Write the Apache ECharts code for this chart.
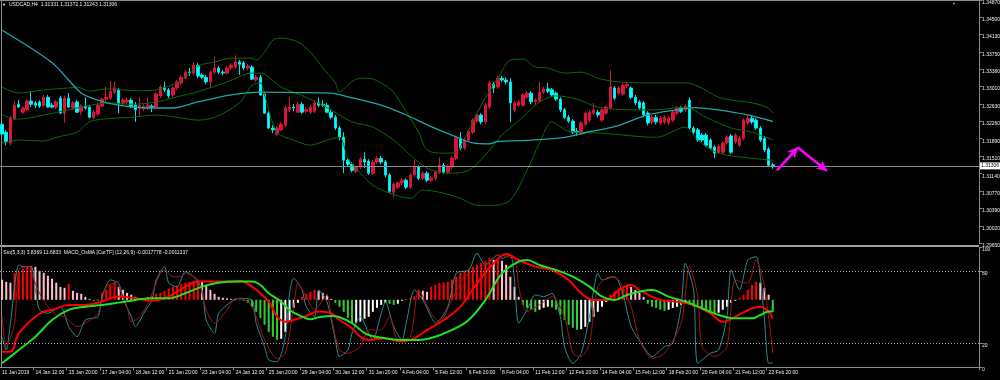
<!DOCTYPE html>
<html><head><meta charset="utf-8">
<script src="https://cdn.jsdelivr.net/npm/echarts@6/dist/echarts.min.js"></script>
<style>html,body{margin:0;padding:0;background:#000}#c{width:1000px;height:380px}</style>
</head><body><div id="c"></div>
<script>
// ---------- data ----------
const priceTickLabels = ['1.29650','1.30020','1.30390','1.30770','1.31140','1.31510','1.31890','1.32260','1.32630','1.33010','1.33380','1.33750','1.34130','1.34500','1.34870'];
const oscTickLabels = ['0','20','80','100'];
const timeLabels = ['11 Jan 2019','14 Jan 12:00','15 Jan 20:00','17 Jan 04:00','18 Jan 12:00','21 Jan 20:00','23 Jan 04:00','24 Jan 12:00','25 Jan 20:00','29 Jan 04:00','30 Jan 12:00','31 Jan 20:00','4 Feb 04:00','5 Feb 12:00','6 Feb 20:00','8 Feb 04:00','11 Feb 12:00','12 Feb 20:00','14 Feb 04:00','15 Feb 12:00','18 Feb 20:00','20 Feb 04:00','21 Feb 12:00','22 Feb 20:00'];
const lastPrice = 1.31306;

const open = [
1.3220,1.3203,1.3180,1.3231,1.3263,1.3246,1.3251,1.3270,1.3266,1.3268,
1.3261,1.3278,1.3261,1.3257,1.3276,1.3244,1.3276,1.3255,1.3268,1.3248,
1.3259,1.3257,1.3235,1.3242,1.3259,1.3274,1.3276,1.3289,1.3294,1.3266,
1.3268,1.3272,1.3261,1.3255,1.3253,1.3255,1.3259,1.3257,1.3281,1.3300,
1.3294,1.3283,1.3298,1.3309,1.3319,1.3332,1.3330,1.3347,1.3326,1.3321,
1.3311,1.3332,1.3341,1.3332,1.3330,1.3341,1.3343,1.3354,1.3352,1.3341,
1.3343,1.3315,1.3321,1.3285,1.3244,1.3212,1.3199,1.3208,1.3218,1.3251,
1.3257,1.3246,1.3263,1.3248,1.3246,1.3248,1.3266,1.3263,1.3261,1.3246,
1.3235,1.3212,1.3192,1.3143,1.3134,1.3119,1.3128,1.3145,1.3141,1.3115,
1.3139,1.3147,1.3139,1.3111,1.3074,1.3085,1.3094,1.3100,1.3085,1.3111,
1.3128,1.3104,1.3115,1.3100,1.3104,1.3117,1.3132,1.3117,1.3128,1.3147,
1.3190,1.3169,1.3186,1.3203,1.3227,1.3240,1.3225,1.3257,1.3306,1.3300,
1.3319,1.3315,1.3311,1.3251,1.3261,1.3261,1.3278,1.3287,1.3268,1.3270,
1.3289,1.3296,1.3294,1.3287,1.3274,1.3251,1.3235,1.3227,1.3205,1.3201,
1.3220,1.3229,1.3244,1.3246,1.3229,1.3244,1.3255,1.3298,1.3287,1.3285,
1.3302,1.3298,1.3278,1.3268,1.3266,1.3244,1.3225,1.3235,1.3223,1.3225,
1.3223,1.3229,1.3244,1.3255,1.3251,1.3272,1.3212,1.3208,1.3197,1.3197,
1.3186,1.3171,1.3160,1.3160,1.3180,1.3195,1.3182,1.3175,1.3190,1.3223,
1.3233,1.3229,1.3212,1.3190,1.3167,1.31331];
const close = [
1.3199,1.3182,1.3233,1.3261,1.3257,1.3255,1.3270,1.3263,1.3261,1.3259,
1.3278,1.3257,1.3257,1.3268,1.3244,1.3276,1.3257,1.3266,1.3246,1.3259,
1.3255,1.3235,1.3246,1.3261,1.3274,1.3278,1.3291,1.3298,1.3266,1.3272,
1.3272,1.3257,1.3251,1.3261,1.3259,1.3261,1.3257,1.3285,1.3300,1.3294,
1.3281,1.3298,1.3311,1.3321,1.3332,1.3330,1.3347,1.3324,1.3321,1.3311,
1.3332,1.3341,1.3332,1.3330,1.3341,1.3347,1.3354,1.3349,1.3341,1.3345,
1.3317,1.3321,1.3283,1.3244,1.3212,1.3208,1.3212,1.3220,1.3255,1.3257,
1.3255,1.3263,1.3246,1.3251,1.3257,1.3266,1.3261,1.3261,1.3246,1.3235,
1.3212,1.3192,1.3143,1.3134,1.3121,1.3128,1.3145,1.3139,1.3115,1.3139,
1.3147,1.3139,1.3111,1.3076,1.3091,1.3094,1.3100,1.3085,1.3111,1.3128,
1.3104,1.3115,1.3100,1.3104,1.3117,1.3132,1.3117,1.3130,1.3147,1.3190,
1.3169,1.3186,1.3205,1.3229,1.3240,1.3225,1.3261,1.3309,1.3298,1.3319,
1.3315,1.3311,1.3266,1.3266,1.3268,1.3283,1.3287,1.3268,1.3272,1.3289,
1.3296,1.3291,1.3283,1.3274,1.3251,1.3235,1.3227,1.3203,1.3203,1.3223,
1.3244,1.3246,1.3251,1.3240,1.3251,1.3257,1.3300,1.3276,1.3298,1.3304,
1.3306,1.3278,1.3266,1.3255,1.3240,1.3223,1.3235,1.3225,1.3233,1.3235,
1.3233,1.3246,1.3255,1.3248,1.3259,1.3212,1.3203,1.3186,1.3186,1.3175,
1.3169,1.3158,1.3173,1.3180,1.3192,1.3160,1.3197,1.3190,1.3229,1.3233,
1.3225,1.3212,1.3186,1.3165,1.3132,1.31306];
const low = [
1.3192,1.3175,1.3175,1.3229,1.3255,1.3242,1.3248,1.3257,1.3255,1.3255,
1.3257,1.3255,1.3255,1.3253,1.3242,1.3223,1.3255,1.3251,1.3244,1.3240,
1.3251,1.3233,1.3231,1.3238,1.3257,1.3270,1.3272,1.3285,1.3244,1.3261,
1.3263,1.3255,1.3225,1.3235,1.3248,1.3251,1.3246,1.3253,1.3276,1.3289,
1.3276,1.3278,1.3294,1.3304,1.3317,1.3324,1.3326,1.3319,1.3317,1.3306,
1.3300,1.3328,1.3328,1.3326,1.3326,1.3336,1.3339,1.3326,1.3336,1.3336,
1.3315,1.3311,1.3281,1.3242,1.3210,1.3201,1.3195,1.3205,1.3214,1.3246,
1.3248,1.3244,1.3242,1.3244,1.3242,1.3244,1.3257,1.3257,1.3244,1.3231,
1.3208,1.3186,1.3115,1.3130,1.3117,1.3115,1.3124,1.3126,1.3111,1.3111,
1.3134,1.3134,1.3106,1.3072,1.3063,1.3081,1.3089,1.3081,1.3081,1.3106,
1.3100,1.3100,1.3096,1.3096,1.3100,1.3113,1.3113,1.3113,1.3124,1.3143,
1.3165,1.3165,1.3182,1.3199,1.3223,1.3220,1.3220,1.3253,1.3287,1.3296,
1.3311,1.3306,1.3225,1.3246,1.3257,1.3257,1.3274,1.3263,1.3261,1.3266,
1.3285,1.3287,1.3278,1.3270,1.3246,1.3231,1.3223,1.3199,1.3195,1.3197,
1.3216,1.3225,1.3240,1.3235,1.3225,1.3240,1.3251,1.3272,1.3283,1.3281,
1.3298,1.3274,1.3261,1.3251,1.3235,1.3218,1.3220,1.3220,1.3218,1.3220,
1.3218,1.3225,1.3240,1.3244,1.3246,1.3208,1.3199,1.3182,1.3182,1.3171,
1.3165,1.3147,1.3156,1.3156,1.3175,1.3156,1.3177,1.3171,1.3186,1.3218,
1.3220,1.3208,1.3182,1.3160,1.3128,1.31243];
const high = [
1.3225,1.3208,1.3238,1.3270,1.3272,1.3259,1.3274,1.3291,1.3270,1.3272,
1.3283,1.3283,1.3266,1.3272,1.3281,1.3281,1.3287,1.3270,1.3272,1.3263,
1.3278,1.3261,1.3251,1.3266,1.3278,1.3300,1.3313,1.3311,1.3298,1.3276,
1.3278,1.3276,1.3268,1.3278,1.3263,1.3278,1.3263,1.3289,1.3304,1.3311,
1.3298,1.3302,1.3315,1.3326,1.3336,1.3341,1.3354,1.3352,1.3330,1.3326,
1.3336,1.3364,1.3345,1.3336,1.3345,1.3352,1.3369,1.3358,1.3356,1.3349,
1.3347,1.3326,1.3326,1.3289,1.3248,1.3218,1.3216,1.3225,1.3261,1.3278,
1.3263,1.3268,1.3268,1.3257,1.3261,1.3272,1.3278,1.3272,1.3266,1.3251,
1.3240,1.3216,1.3203,1.3147,1.3139,1.3132,1.3149,1.3160,1.3145,1.3143,
1.3152,1.3152,1.3143,1.3115,1.3096,1.3098,1.3104,1.3104,1.3115,1.3143,
1.3132,1.3119,1.3119,1.3109,1.3121,1.3149,1.3137,1.3134,1.3152,1.3195,
1.3203,1.3190,1.3210,1.3233,1.3244,1.3244,1.3266,1.3313,1.3311,1.3324,
1.3324,1.3321,1.3319,1.3270,1.3272,1.3287,1.3291,1.3291,1.3276,1.3311,
1.3300,1.3309,1.3298,1.3291,1.3278,1.3255,1.3240,1.3231,1.3212,1.3227,
1.3248,1.3251,1.3266,1.3251,1.3255,1.3261,1.3336,1.3302,1.3302,1.3309,
1.3311,1.3302,1.3283,1.3272,1.3270,1.3248,1.3240,1.3240,1.3238,1.3240,
1.3238,1.3251,1.3259,1.3259,1.3263,1.3278,1.3216,1.3212,1.3201,1.3201,
1.3190,1.3175,1.3177,1.3184,1.3197,1.3199,1.3201,1.3195,1.3233,1.3238,
1.3238,1.3233,1.3216,1.3195,1.3171,1.31372];

// Bollinger bands and slow MA, read as [bar, price]
const bbUpper = [[0,1.3300],[4,1.3287],[10,1.3294],[16,1.3298],[18,1.3300],[21,1.3291],[25,1.3296],[33,1.3292],[37,1.3294],[42,1.3309],[44,1.3321],[47,1.3345],[51,1.3354],[55,1.3362],[60,1.3362],[61,1.3358],[63,1.3375],[65,1.3401],[67,1.3405],[71,1.3397],[74,1.3375],[77,1.3341],[80,1.3309],[81,1.3289],[83,1.3304],[85,1.3317],[88,1.3319],[91,1.3309],[94,1.3289],[96,1.3261],[100,1.3203],[102,1.3165],[106,1.3158],[109,1.3160],[111,1.3190],[115,1.3261],[119,1.3319],[122,1.3358],[125,1.3360],[128,1.3343],[131,1.3341],[135,1.3330],[139,1.3332],[143,1.3319],[148,1.3311],[155,1.3309],[164,1.3309],[167,1.3302],[172,1.3278],[175,1.3272],[180,1.3266],[184,1.3255],[185,1.3244]];
const bbMiddle = [[0,1.3240],[4,1.3231],[10,1.3240],[16,1.3251],[20,1.3259],[26,1.3266],[31,1.3263],[37,1.3268],[42,1.3279],[47,1.3290],[54,1.3311],[60,1.3330],[62,1.3330],[67,1.3300],[73,1.3278],[79,1.3251],[84,1.3225],[89,1.3214],[94,1.3186],[98,1.3154],[102,1.3126],[107,1.3115],[112,1.3121],[116,1.3154],[120,1.3197],[125,1.3235],[129,1.3268],[133,1.3281],[138,1.3274],[143,1.3257],[151,1.3251],[157,1.3251],[164,1.3257],[169,1.3235],[175,1.3212],[180,1.3203],[185,1.3186]];
const bbLower = [[0,1.3180],[4,1.3186],[10,1.3184],[13,1.3192],[18,1.3203],[21,1.3225],[24,1.3231],[31,1.3235],[37,1.3240],[42,1.3235],[47,1.3229],[51,1.3235],[57,1.3266],[60,1.3304],[62,1.3309],[63,1.3283],[66,1.3203],[70,1.3186],[74,1.3175],[78,1.3186],[81,1.3192],[83,1.3147],[86,1.3115],[89,1.3089],[93,1.3072],[98,1.3061],[101,1.3079],[105,1.3074],[110,1.3061],[114,1.3046],[118,1.3046],[122,1.3057],[126,1.3121],[129,1.3180],[132,1.3225],[136,1.3205],[144,1.3201],[157,1.3192],[164,1.3214],[167,1.3186],[172,1.3158],[180,1.3147],[185,1.3143]];
const maSlow = [[0,1.3422],[12,1.3352],[19,1.3287],[23,1.3272],[28,1.3261],[35,1.3255],[41,1.3255],[47,1.3268],[55,1.3283],[62,1.3289],[71,1.3288],[79,1.3287],[83,1.3279],[91,1.3261],[97,1.3240],[103,1.3215],[109,1.3193],[113,1.3180],[117,1.3178],[119,1.3183],[127,1.3186],[135,1.3192],[141,1.3204],[147,1.3215],[155,1.3240],[162,1.3251],[166,1.3256],[171,1.3252],[179,1.3240],[185,1.3226]];

// manual drawing: two arrows [bar, price]
const arrowPts = [[186,1.3121],[190.7,1.3170],[198.2,1.3120]];

// sub window
const osma = [
0.00107,0.00096,0.00091,0.00144,0.00149,0.00165,0.00176,0.00181,0.00176,0.00155,
0.00144,0.00128,0.00112,0.00091,0.00069,0.00064,0.00085,0.00048,0.00037,0.00032,
0.00016,0.00005,-0.00005,-0.00003,0.00037,0.00053,0.0008,0.00096,0.00069,0.00053,
0.00037,0.00027,0.00016,0.00008,0.00005,0.00016,0.00021,0.00032,0.00037,0.00048,
0.00059,0.00069,0.00075,0.00085,0.00091,0.00096,0.00101,0.00107,0.00096,0.0008,
0.00053,0.00032,0.00016,0.00011,0.00008,0.00005,0.00003,-0.00003,-0.00005,-0.00016,
-0.00037,-0.00064,-0.00096,-0.00133,-0.00171,-0.00197,-0.00213,-0.00208,-0.00171,-0.00117,
-0.00043,-0.00016,0.00016,0.00032,0.00043,0.00053,0.00048,0.00037,0.00027,0.00005,
-0.00016,-0.00037,-0.00064,-0.00096,-0.00128,-0.00123,-0.00117,-0.00101,-0.00091,-0.00064,
-0.00043,-0.00027,-0.00016,-0.00021,-0.00027,-0.00021,-0.00005,0.00003,0.00011,0.00021,
0.00053,0.00048,0.00043,0.00069,0.0008,0.00091,0.00093,0.00096,0.00107,0.00123,
0.00144,0.00149,0.0016,0.00176,0.00187,0.00197,0.00208,0.00224,0.00213,0.00219,
0.00208,0.00187,0.00123,0.00069,0.00016,-0.00027,-0.00043,-0.00053,-0.00064,-0.00053,
-0.00043,-0.00037,-0.0004,-0.00053,-0.0008,-0.00107,-0.00133,-0.00149,-0.0016,-0.00157,
-0.00144,-0.00117,-0.00091,-0.00064,-0.00037,-0.00011,0.00027,0.00043,0.00059,0.00069,
0.0008,0.00069,0.00053,0.00037,0.00016,-0.00021,-0.00037,-0.00043,-0.00053,-0.00059,
-0.00053,-0.00043,-0.00037,-0.00027,-0.00016,-0.00027,-0.00037,-0.00043,-0.00053,-0.00064,
-0.00069,-0.00075,-0.00069,-0.00053,-0.00037,-0.00016,-0.00005,0.00011,0.00027,0.00053,
0.0008,0.00096,0.00091,0.00064,0.00027,-0.00064];
const stochMain = [[0,25.5],[1,14.4],[2,36.7],[4,85.3],[5,83.9],[7,83.9],[8,64.4],[9,47.8],[11,45],[12,46.4],[14,50.5],[16,33.9],[18,25.5],[20,39.4],[23,42.2],[24,58.9],[26,72.8],[28,70],[29,57.5],[31,42.2],[32,33.9],[34,45],[36,56.1],[37,72.8],[39,83.9],[40,70],[42,67.2],[44,79.7],[46,75.5],[48,64.4],[49,39.4],[51,28.3],[52,45],[55,54.7],[57,57.5],[60,56.1],[61,36.7],[63,17.2],[64,6.1],[66,4.7],[68,25.5],[69,61.7],[70,74.2],[72,64.4],[73,50.5],[75,42.2],[76,64.4],[78,54.7],[80,22.8],[81,8.9],[83,14.4],[84,28.3],[86,42.2],[88,28.3],[89,22.8],[91,45],[92,54.7],[94,33.9],[96,22.8],[97,36.7],[99,64.4],[101,56.1],[103,42.2],[104,36.7],[107,50.5],[109,78.3],[112,81.1],[114,95],[116,85.3],[119,93.6],[120,90.8],[122,93.6],[123,72.8],[124,36.7],[126,47.8],[128,60.3],[130,58.9],[132,61.7],[134,42.2],[135,17.2],[137,3.3],[139,11.7],[141,42.2],[143,78.3],[144,72.8],[147,75.5],[149,61.7],[151,33.9],[154,17.2],[156,8.9],[159,17.2],[161,20],[163,50.5],[164,86.7],[166,64.4],[167,3.3],[170,11.7],[172,14.4],[174,42.2],[175,81.1],[177,64.4],[179,89.4],[181,92.2],[182,75.5],[183,39.4],[184,3.3],[185,3.84]];
const stochSignal = [[0,42.2],[1,17.2],[3,36.7],[4,81.1],[6,83.9],[7,78.3],[9,61.7],[11,50.5],[13,43.6],[15,42.2],[18,33.9],[20,36.7],[23,45],[25,67.2],[27,70],[28,67.2],[30,50.5],[31,38],[33,42.2],[35,53.3],[38,78.3],[39,81.1],[41,75.5],[43,75.5],[44,78.3],[47,72.8],[49,47.8],[51,36.7],[54,47.8],[56,57.5],[59,54.7],[61,42.2],[63,22.8],[66,7.5],[68,11.7],[70,50.5],[71,70],[73,58.9],[75,47.8],[78,60.3],[79,42.2],[81,14.4],[83,11.7],[86,17.2],[88,31.1],[91,31.1],[93,42.2],[95,22.8],[98,25.5],[100,64.4],[103,45],[105,38],[108,56.1],[111,75.5],[115,83.9],[117,88],[119,93.6],[123,89.4],[124,67.2],[126,46.4],[129,51.9],[132,58.9],[135,42.2],[137,11.7],[139,8.9],[141,20],[143,67.2],[146,75.5],[148,72.8],[151,50.5],[153,22.8],[156,7.5],[159,11.7],[163,36.7],[165,83.9],[167,58.9],[168,17.2],[171,8.9],[174,17.2],[176,72.8],[179,70],[181,89.4],[183,67.2],[185,11.68]];
const macdLine = [[0,13],[2,13],[4,28.3],[8,42.2],[10,46.4],[12,47.8],[16,51.9],[20,51.9],[24,54.7],[26,57.5],[28,58.9],[32,57.5],[36,55.5],[40,58.9],[44,67.2],[47,71.4],[49,71.4],[56,71.4],[57,72],[60,67.2],[64,54.7],[66,42.2],[68,38],[70,39.4],[73,42.8],[76,46.4],[79,45],[81,39.4],[84,32.5],[86,25.5],[88,22.8],[92,24.2],[96,21.4],[99,24.2],[102,31.1],[106,39.4],[110,50.5],[114,70],[118,86.7],[121,94.4],[124,89.4],[128,83.9],[132,81.1],[136,72.8],[139,61.7],[142,56.1],[145,56.1],[148,64.4],[151,68.6],[153,64.4],[158,56.1],[162,54.7],[166,51.9],[170,45],[173,38],[176,42.2],[180,49.2],[182,50.5],[184,46.4],[185,40.8]];
const signalLine = [[0,3.3],[4,14.4],[8,25.5],[12,39.4],[16,47.8],[20,50.5],[24,51.9],[28,53.9],[32,56.1],[36,57.5],[40,57.5],[44,61.7],[48,67.2],[52,70.5],[56,71.4],[60,71.4],[62,68.6],[64,61.7],[67,54.7],[69,47.8],[72,42.2],[74,40],[76,41.7],[79,42.8],[81,41.7],[84,36.7],[86,31.1],[88,26.9],[92,24.2],[96,22.8],[100,22.8],[104,25.5],[108,31.1],[112,39.4],[116,56.1],[120,78.3],[124,88],[126,89.4],[129,85.3],[133,81.1],[137,75.5],[141,67.2],[144,58.9],[147,56.1],[150,60.3],[153,63],[156,64.4],[160,58.9],[164,54.7],[168,49.2],[172,43.6],[176,40.8],[180,40.8],[182,43.6],[184,46.4],[185,46.4]];

// ---------- chart ----------
const SLOTS = 235;
const slots = Array.from({length: SLOTS}, (_, i) => String(i));
const FONT = 'Liberation Sans';
const FS = 5;
const TXT = '#ececec';
const FRAME = '#8c8c8c';

const candles = open.map((o, i) => [o, close[i], low[i], high[i]]);
const histData = osma.map((v, i) => {
  const p = i > 0 ? osma[i - 1] : undefined;
  let c;
  if (v >= 0) c = (p !== undefined && v >= p) ? '#ff0000' : '#ffc0cb';
  else c = (p === undefined || v <= p) ? '#32cd32' : '#ffffff';
  return {value: v, itemStyle: {color: c}};
});

const chart = echarts.init(document.getElementById('c'), null, {renderer: 'canvas'});
const lineS = (name, data, color, width, xi, yi, smooth) => ({
  name, type: 'line', data, xAxisIndex: xi, yAxisIndex: yi, symbol: 'none',
  smooth: smooth, lineStyle: {color, width}, silent: true, animation: false, z: 3
});

chart.setOption({
  backgroundColor: '#000000',
  animation: false,
  textStyle: {fontFamily: FONT},
  grid: [
    {left: 0, right: 21, top: 0, height: 243, outerBoundsMode: 'none'},
    {left: 0, right: 21, top: 247.3, height: 120, outerBoundsMode: 'none'}
  ],
  xAxis: [
    {type: 'category', gridIndex: 0, data: slots, boundaryGap: true,
     axisLine: {show: false}, axisTick: {show: false}, axisLabel: {show: false}, splitLine: {show: false}},
    {type: 'category', gridIndex: 1, data: slots, boundaryGap: true,
     axisLine: {show: true, lineStyle: {color: FRAME, width: 1}},
     axisTick: {show: true, length: 3, lineStyle: {color: FRAME},
       interval: (i) => i > 0 && i % 8 === 0 && i / 8 < timeLabels.length},
     axisLabel: {show: true, color: TXT, fontSize: FS, fontFamily: FONT, align: 'left', margin: 2.5,
       interval: (i) => i % 8 === 0 && i / 8 < timeLabels.length,
       formatter: (v, i) => timeLabels[Math.round(i / 8)] || ''},
     splitLine: {show: false}}
  ],
  yAxis: [
    {type: 'value', gridIndex: 0, position: 'right', min: 1.29650, max: 1.34870, scale: true,
     axisLine: {show: true, lineStyle: {color: FRAME}},
     axisTick: {show: true, length: 3, inside: false, lineStyle: {color: FRAME}, customValues: priceTickLabels.map(Number)},
     axisLabel: {show: true, color: TXT, fontSize: FS, fontFamily: FONT, margin: 3, verticalAlign: 'top',
       customValues: priceTickLabels.map(Number), formatter: (v) => v.toFixed(5)},
     splitLine: {show: false}},
    {type: 'value', gridIndex: 1, position: 'right', min: 0, max: 100,
     axisLine: {show: true, lineStyle: {color: FRAME}},
     axisTick: {show: true, length: 3, lineStyle: {color: FRAME}, customValues: oscTickLabels.map(Number)},
     axisLabel: {show: true, color: TXT, fontSize: FS, fontFamily: FONT, margin: 3, verticalAlign: 'top',
       customValues: oscTickLabels.map(Number), formatter: (v) => String(v)},
     splitLine: {show: false}},
    {type: 'value', gridIndex: 1, min: -0.0036, max: 0.0028, show: false, splitLine: {show: false}}
  ],
  series: [
    {name: 'USDCAD', type: 'candlestick', xAxisIndex: 0, yAxisIndex: 0, data: candles, barWidth: 3,
     silent: true, z: 2,
     itemStyle: {color: '#dc143c', color0: '#00ffff', borderColor: '#dc143c', borderColor0: '#00e5e5', borderWidth: 1},
     markLine: {silent: true, animation: false, symbol: ['none', 'none'], precision: 5,
       data: [
         {yAxis: lastPrice, lineStyle: {color: '#8a8a8a', width: 1, type: 'solid'},
          label: {show: true, position: 'end', distance: 1, formatter: lastPrice.toFixed(5), color: '#000',
            backgroundColor: '#ffffff', fontSize: FS, fontFamily: FONT, padding: [1, 1, 1, 1]}},
         [{coord: arrowPts[0], symbol: 'none'}, {coord: arrowPts[1], symbol: 'arrow', symbolSize: [8, 10],
           lineStyle: {color: '#ff00ff', width: 2.5, type: 'solid'}, label: {show: false}}],
         [{coord: arrowPts[1], symbol: 'none'}, {coord: arrowPts[2], symbol: 'arrow', symbolSize: [8, 10],
           lineStyle: {color: '#ff00ff', width: 2.5, type: 'solid'}, label: {show: false}}]
       ],
       lineStyle: {color: '#ff00ff', width: 2.5, type: 'solid'}, label: {show: false}}},
    lineS('BB upper', bbUpper, '#0b6a0b', 1, 0, 0, 0.3),
    lineS('BB middle', bbMiddle, '#0b6a0b', 1, 0, 0, 0.3),
    lineS('BB lower', bbLower, '#0b6a0b', 1, 0, 0, 0.3),
    lineS('MA', maSlow, '#1fa4aa', 1.3, 0, 0, 0.3),
    {name: 'OsMA', type: 'bar', xAxisIndex: 1, yAxisIndex: 2, data: histData, barWidth: 2, silent: true, z: 1},
    Object.assign(lineS('Sto main', stochMain, '#2b8c8c', 1, 1, 1, 0.25), {
      markLine: {silent: true, symbol: 'none', label: {show: false},
        lineStyle: {color: '#a8a8a8', width: 1, type: [1, 2]},
        data: [{yAxis: 20}, {yAxis: 80}]}
    }),
    lineS('Sto signal', stochSignal, '#a01414', 1, 1, 1, 0.25),
    lineS('MACD', macdLine, '#ff0000', 2, 1, 1, 0.4),
    lineS('Signal', signalLine, '#22e022', 2, 1, 1, 0.4)
  ],
  graphic: [
    {type: 'rect', left: 0, top: 0, shape: {width: 979, height: 1}, style: {fill: FRAME}, silent: true},
    {type: 'rect', left: 0, top: 245, shape: {width: 979, height: 2}, style: {fill: '#a0a0a0'}, silent: true},
    {type: 'rect', left: 1, top: 0, shape: {width: 1, height: 368}, style: {fill: FRAME}, silent: true},
    {type: 'text', left: 2, top: 2.8, style: {text: '▼', fontSize: 4, fill: TXT}, silent: true},
    {type: 'text', left: 9, top: 2.5, style: {text: 'USDCAD,H4  1.31331 1.31372 1.31243 1.31306', fontSize: FS, fontFamily: FONT, fill: TXT}, silent: true},
    {type: 'text', left: 3.3, top: 250, style: {text: 'Sto(5,3,3) 3.8369 11.6833  MACD_OsMA [CurTF] (12,26,9) -0.0017778 -0.0011337', fontSize: FS, fontFamily: FONT, fill: TXT}, silent: true},
    {type: 'text', left: 952, top: 1.5, style: {text: '▼', fontSize: 4, fill: '#9a9a9a'}, silent: true}
  ]
});
</script></body></html>
